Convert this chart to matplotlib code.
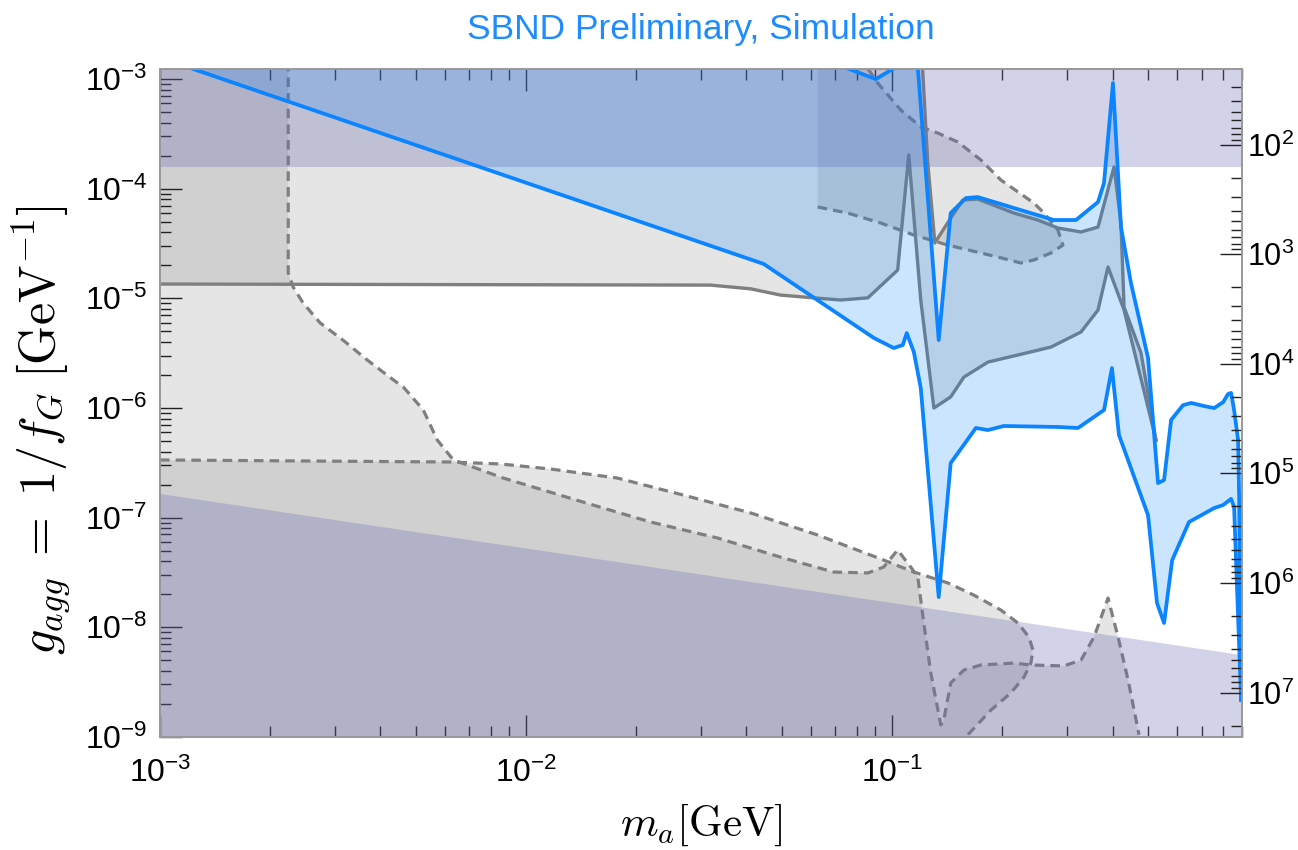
import numpy as np
import matplotlib
matplotlib.use("Agg")
import matplotlib.pyplot as plt
from matplotlib.ticker import LogLocator, NullFormatter, FixedLocator

plt.rcParams['font.family'] = ['Liberation Sans', 'DejaVu Sans']
plt.rcParams['mathtext.fontset'] = 'cm'

# ---------------- data ----------------
x_lim = (1e-3, 0.9)            # m_a [GeV]
g_lim = (1e-9, 1.245e-3)       # g_agg [GeV^-1]
f_conv = 0.0253                # right axis: f_G scale = f_conv / g
f_ticks = [1e2, 1e3, 1e4, 1e5, 1e6, 1e7]

# SBND sensitivity, lower boundary
sbnd_low_m = [1e-3, 0.04456, 0.0891, 0.1010, 0.1069, 0.1096, 0.1146, 0.1197, 0.1340,
              0.1445, 0.1693, 0.1826, 0.2018, 0.2836, 0.3218, 0.3791, 0.3984, 0.4164,
              0.500, 0.529, 0.553, 0.582, 0.647, 0.758, 0.802, 0.843, 0.859, 0.887, 0.898]
sbnd_low_g = [1.57e-3, 2.06e-5, 4.35e-6, 3.52e-6, 3.75e-6, 4.82e-6, 3.24e-6, 1.52e-6, 1.88e-8,
              3.14e-7, 6.56e-7, 6.28e-7, 6.84e-7, 6.70e-7, 6.56e-7, 9.57e-7, 2.31e-6, 5.66e-7,
              1.05e-7, 1.66e-8, 1.09e-8, 4.09e-8, 9.1e-8, 1.22e-7, 1.30e-7, 1.48e-7, 1.25e-7,
              6.58e-9, 2.16e-9]

# SBND sensitivity, upper boundary
sbnd_up_m = [1e-3, 0.060, 0.0761, 0.0902, 0.1004, 0.1168, 0.134, 0.1445, 0.159, 0.1714,
             0.215, 0.2766, 0.3177, 0.365, 0.379, 0.401, 0.4217, 0.449, 0.4784, 0.500,
             0.5324, 0.553, 0.578, 0.623, 0.656, 0.711, 0.758, 0.802, 0.827, 0.843, 0.859,
             0.881, 0.887, 0.898]
sbnd_up_g = [2e-3, 1.66e-3, 1.24e-3, 1.0e-3, 1.24e-3, 1.66e-3, 4.16e-6, 6.0e-5, 8.22e-5, 8.39e-5,
             6.67e-5, 5.18e-5, 5.18e-5, 7.56e-5, 1.13e-4, 9.21e-4, 4.47e-5, 1.38e-5, 5.47e-6, 2.85e-6,
             2.06e-7, 2.2e-7, 7.76e-7, 1.06e-6, 1.11e-6, 1.04e-6, 9.97e-7, 1.13e-6, 1.34e-6, 1.37e-6, 9.57e-7,
             5.09e-7, 1.45e-7, 2.16e-9]

# existing bound, solid gray: lower edge
solid_low_m = [1e-3, 0.0319, 0.0411, 0.0496, 0.061, 0.0724, 0.0858, 0.1035, 0.111, 0.1197,
               0.130, 0.1445, 0.157, 0.1826, 0.2205, 0.2715, 0.328, 0.365, 0.3887, 0.430,
               0.4576, 0.5257]
solid_low_g = [1.35e-5, 1.32e-5, 1.22e-5, 1.07e-5, 1.01e-5, 9.65e-6, 1.01e-5, 1.81e-5, 2.03e-4, 9.65e-6,
               9.97e-7, 1.26e-6, 1.91e-6, 2.62e-6, 3.04e-6, 3.59e-6, 4.93e-6, 7.82e-6, 1.93e-5, 7.82e-6,
               3.37e-6, 5.09e-7]
# existing bound, solid gray: upper edge
solid_up_m = [0.1205, 0.1251, 0.1308, 0.1445, 0.156, 0.1714, 0.215, 0.250, 0.2836, 0.328,
              0.365, 0.4036, 0.4217, 0.430, 0.4784, 0.5257]
solid_up_g = [1.66e-3, 1.72e-4, 3.2e-5, 5.4e-5, 7.89e-5, 8.05e-5, 6.0e-5, 5.18e-5, 4.38e-5, 4.03e-5,
              4.47e-5, 1.58e-4, 4.86e-5, 8.33e-6, 3.17e-6, 5.09e-7]

# dashed bound A (large region, left)
dashA_m = [2.24e-3, 2.24e-3, 2.31e-3, 2.46e-3, 2.74e-3, 3.16e-3, 3.68e-3, 4.34e-3, 4.62e-3, 5.24e-3,
           5.72e-3, 6.33e-3, 8.67e-3, 0.01434, 0.02187, 0.03334, 0.0505, 0.0692, 0.0858, 0.0948,
           0.1035, 0.1124, 0.1175, 0.1197, 0.122, 0.1275, 0.1358, 0.1384, 0.1445, 0.157, 0.1747,
           0.215, 0.2393, 0.2945, 0.328, 0.356, 0.3887, 0.414, 0.441, 0.4724]
dashA_g = [2e-3, 1.70e-5, 1.27e-5, 9.06e-6, 5.95e-6, 4.16e-6, 2.74e-6, 1.80e-6, 1.55e-6, 9.57e-7,
           5.09e-7, 3.35e-7, 2.29e-7, 1.38e-7, 9.1e-8, 6.5e-8, 4.27e-8, 3.18e-8, 3.12e-8, 3.53e-8,
           5.05e-8, 3.53e-8, 2.86e-8, 1.77e-8, 1.09e-8, 3.81e-9, 1.28e-9, 1.42e-9, 3.09e-9, 4.06e-9, 4.51e-9,
           4.7e-9, 4.51e-9, 4.42e-9, 5.0e-9, 8.12e-9, 1.84e-8, 8.12e-9, 3.29e-9, 1.04e-9]

# dashed bound B (lower region)
dashB_m = [1e-3, 6.21e-3, 8.5e-3, 0.01166, 0.01777, 0.02693, 0.0411, 0.0626, 0.0948, 0.1146,
           0.1419, 0.1671, 0.1982, 0.2205, 0.2363, 0.2424, 0.2393, 0.2291, 0.211, 0.1861, 0.161]
dashB_g = [3.35e-7, 3.21e-7, 3.08e-7, 2.77e-7, 2.29e-7, 1.60e-7, 1.10e-7, 6.92e-8, 4.09e-8, 3.18e-8,
           2.53e-8, 1.96e-8, 1.43e-8, 1.09e-8, 8.12e-9, 6.18e-9, 4.7e-9, 3.5e-9, 2.51e-9, 1.75e-9, 1.04e-9]

# dashed bound C (upper right island)
dashC_m = [0.0626, 0.0756, 0.0931, 0.1146, 0.1419, 0.1945, 0.2247, 0.2439, 0.2715, 0.2927,
           0.2836, 0.260, 0.2439, 0.1982, 0.1747, 0.1511, 0.1333, 0.1197, 0.1056, 0.0913, 0.081]
dashC_g = [6.81e-5, 6.0e-5, 4.86e-5, 3.78e-5, 3.06e-5, 2.38e-5, 2.1e-5, 2.24e-5, 2.59e-5, 3.06e-5,
           4.2e-5, 6.0e-5, 7.4e-5, 1.2e-4, 1.83e-4, 2.67e-4, 3.22e-4, 3.66e-4, 5.22e-4, 9.21e-4, 1.66e-3]

# lavender bands
lav_top_g = 1.57e-4
lav_bot_m = [1e-3, 0.9]
lav_bot_g = [1.64e-7, 5.56e-9]

# ---------------- styles ----------------
blue = '#0a84ff'
blue_fill = (0.0, 0.5, 1.0, 0.2)
gray_fill = (0.5, 0.5, 0.5, 0.2)
gray_line = '#7f7f7f'
lav_fill = (0.42, 0.42, 0.70, 0.30)
below = 1e-11
above = 1e-1

fig = plt.figure(figsize=(12.98, 8.5), dpi=100)
ax = fig.add_axes([160 / 1298, 1 - 736.7 / 850, (1241.5 - 160) / 1298, 668 / 850])
ax.set_xscale('log')
ax.set_yscale('log')

# gray regions
ga_x = solid_low_m + solid_up_m[::-1] + [x_lim[0]]
ga_y = solid_low_g + solid_up_g[::-1] + [solid_up_g[0]]
ax.fill(ga_x, ga_y, color=gray_fill, lw=0, zorder=1)
ax.fill([x_lim[0]] + dashA_m + [dashA_m[-1], x_lim[0]],
        [dashA_g[0]] + dashA_g + [below, below], color=gray_fill, lw=0, zorder=1)
ax.fill(dashB_m + [dashB_m[-1], dashB_m[0]], dashB_g + [below, below],
        color=gray_fill, lw=0, zorder=1)
ax.fill([dashC_m[0]] + dashC_m, [above] + dashC_g, color=gray_fill, lw=0, zorder=1)

# gray lines
ax.plot(solid_low_m, solid_low_g, color=gray_line, lw=2.4, zorder=2)
ax.plot(solid_up_m, solid_up_g, color=gray_line, lw=2.4, zorder=2)
dash = (0, (3.0, 1.9))
for mm, gg in [(dashA_m, dashA_g), (dashB_m, dashB_g), (dashC_m, dashC_g)]:
    ax.plot(mm, gg, color=gray_line, lw=2.3, ls=dash, zorder=2)

# lavender bands
ax.fill([x_lim[0], x_lim[1], x_lim[1], x_lim[0]], [lav_top_g, lav_top_g, above, above],
        color=lav_fill, lw=0, zorder=3)
ax.fill(lav_bot_m + [lav_bot_m[-1], lav_bot_m[0]], lav_bot_g + [below, below],
        color=lav_fill, lw=0, zorder=3)

# SBND region
ax.fill(sbnd_low_m + sbnd_up_m[::-1], sbnd_low_g + sbnd_up_g[::-1], color=blue_fill, lw=0, zorder=4)
ax.plot(sbnd_low_m, sbnd_low_g, color=blue, lw=2.7, zorder=5)
ax.plot(sbnd_up_m, sbnd_up_g, color=blue, lw=2.7, zorder=5)

ax.set_xlim(*x_lim)
ax.set_ylim(*g_lim)

for sp in ax.spines.values():
    sp.set_color('#9a9a9a')
    sp.set_linewidth(1.3)

ax.xaxis.set_major_locator(LogLocator(base=10, numticks=20))
ax.xaxis.set_minor_locator(LogLocator(base=10, subs=np.arange(2, 10), numticks=100))
ax.yaxis.set_major_locator(LogLocator(base=10, numticks=20))
ax.yaxis.set_minor_locator(LogLocator(base=10, subs=np.arange(2, 10), numticks=100))
ax.xaxis.set_minor_formatter(NullFormatter())
ax.yaxis.set_minor_formatter(NullFormatter())
ax.tick_params(which='both', direction='in', top=True, right=False,
               color='#222222', width=1.0)
ax.tick_params(axis='both', labelsize=23)
ax.tick_params(which='major', length=15.5)
ax.tick_params(which='minor', length=7.7)
ax.tick_params(axis='y', which='major', pad=9)
ax.tick_params(axis='x', which='major', pad=15)

ax2 = ax.twinx()
ax2.set_yscale('log')
ax2.set_ylim(f_conv / g_lim[0], f_conv / g_lim[1])
ax2.yaxis.set_major_locator(FixedLocator(f_ticks))
ax2.yaxis.set_minor_locator(LogLocator(base=10, subs=np.arange(2, 10), numticks=100))
ax2.yaxis.set_minor_formatter(NullFormatter())
ax2.tick_params(axis='y', which='both', direction='in', labelsize=22, color='#222222', width=1.0)
ax2.tick_params(axis='y', which='major', length=15.5, pad=4)
ax2.tick_params(axis='y', which='minor', length=7.7)
ax2.tick_params(axis='x', which='both', bottom=False, top=False, labelbottom=False, labeltop=False)
for sp in ax2.spines.values():
    sp.set_color('#9a9a9a')
    sp.set_linewidth(1.3)

cx = (160 + 1241.5) / 2 / 1298
fig.text(cx, 1 - 30 / 850, 'SBND Preliminary, Simulation', color='#1e8cff', fontsize=25.5,
         ha='center', va='center')
fig.text(cx, 1 - 825 / 850, r'$m_a[\mathrm{GeV}]$', fontsize=31, ha='center', va='center')
fig.text(42 / 1298, 1 - 430 / 850, r'$g_{agg}\;=\;1/f_G\;[\mathrm{GeV}^{-1}]$', fontsize=36,
         ha='center', va='center', rotation=90)

fig.savefig('out.png', dpi=100)
